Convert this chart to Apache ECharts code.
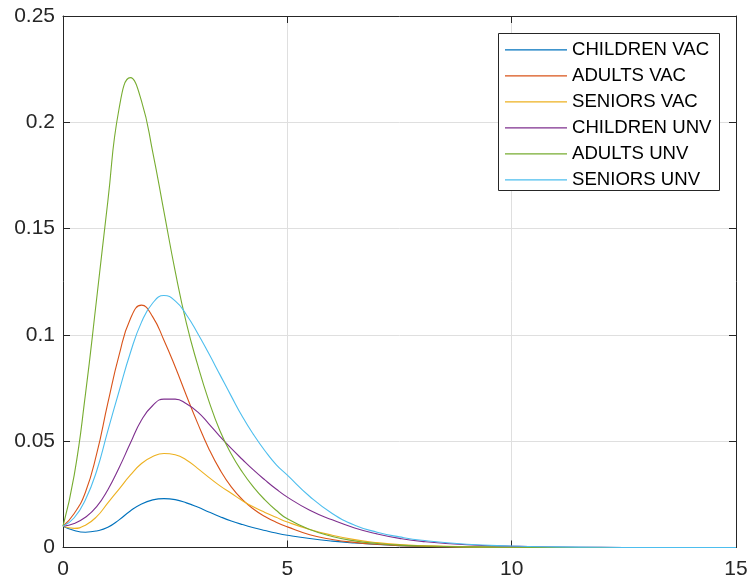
<!DOCTYPE html>
<html>
<head>
<meta charset="utf-8">
<script src="https://cdn.jsdelivr.net/npm/echarts@6/dist/echarts.min.js"></script>
<style>
html,body{margin:0;padding:0;background:#fff;}
#chart{width:752px;height:586px;}
</style>
</head>
<body>
<div id="chart"></div>
<script>
// x positions (shared by all series)
var xs = [0,0.25,0.5,0.75,1,1.25,1.5,1.75,2,2.25,2.5,2.75,3,3.25,3.5,3.75,4,4.25,4.5,4.75,5,5.5,6,6.5,7,7.5,8,9,10,11,12,13,14,15];

var seriesNames = ['CHILDREN VAC','ADULTS VAC','SENIORS VAC','CHILDREN UNV','ADULTS UNV','SENIORS UNV'];

var childrenVac = [0.0100,0.0080,0.0072,0.0078,0.0095,0.0130,0.0172,0.0205,0.0224,0.0230,0.0225,0.0210,0.0190,0.0167,0.0145,0.0125,0.0108,0.0093,0.0080,0.0068,0.0058,0.0042,0.0030,0.0021,0.0014,0.0009,0.0006,0.0003,0.0001,0,0,0,0,0];
var adultsVac   = [0.0100,0.0160,0.0260,0.0440,0.0680,0.0905,0.1075,0.1140,0.1085,0.0975,0.0850,0.0715,0.0585,0.0465,0.0365,0.0285,0.0225,0.0180,0.0146,0.0119,0.0097,0.0060,0.0038,0.0024,0.0015,0.0009,0.0006,0.0002,0.0001,0,0,0,0,0];
var seniorsVac  = [0.0100,0.0090,0.0105,0.0145,0.0210,0.0275,0.0340,0.0395,0.0428,0.0442,0.0436,0.0412,0.0372,0.0330,0.0290,0.0255,0.0220,0.0190,0.0165,0.0142,0.0120,0.0085,0.0058,0.0037,0.0023,0.0014,0.0009,0.0003,0.0001,0,0,0,0,0];
var childrenUnv = [0.0100,0.0113,0.0142,0.0192,0.0272,0.0375,0.0490,0.0600,0.0668,0.0698,0.0698,0.0676,0.0638,0.0582,0.0522,0.0466,0.0414,0.0364,0.0318,0.0275,0.0237,0.0175,0.0130,0.0092,0.0064,0.0043,0.0029,0.0013,0.0006,0.0002,0.0001,0,0,0];
var adultsUnv   = [0.0100,0.0340,0.0720,0.1170,0.1630,0.2065,0.2210,0.2100,0.1860,0.1580,0.1300,0.1055,0.0860,0.0690,0.0548,0.0440,0.0354,0.0283,0.0224,0.0175,0.0135,0.0085,0.0052,0.0031,0.0019,0.0011,0.0007,0.0003,0.0001,0,0,0,0,0];
var seniorsUnv  = [0.0100,0.0140,0.0225,0.0360,0.0550,0.0735,0.0915,0.1060,0.1150,0.1185,0.1160,0.1095,0.1008,0.0912,0.0812,0.0712,0.0615,0.0530,0.0455,0.0390,0.0340,0.0240,0.0160,0.0105,0.0072,0.0050,0.0034,0.0015,0.0007,0.0003,0.0001,0,0,0];

var xTicks = {min:0, max:15, interval:5};
var yTicks = {min:0, max:0.25, interval:0.05};

var colors = ['#0072BD','#D95319','#EDB120','#7E2F8E','#77AC30','#4DBEEE'];
var allData = [childrenVac, adultsVac, seniorsVac, childrenUnv, adultsUnv, seniorsUnv];

function pairs(ys){ return xs.map(function(x,i){ return [x, ys[i]]; }); }

var axisColor = '#262626';
var font = 'Liberation Sans, Arial, Helvetica, sans-serif';

var chart = echarts.init(document.getElementById('chart'), null, {renderer:'canvas'});
chart.setOption({
  animation: false,
  backgroundColor: '#fff',
  color: colors,
  grid: {left: 63, right: 16, top: 16, bottom: 38.5, show: false, containLabel: false},
  xAxis: [
    {type:'value', position:'bottom', min:xTicks.min, max:xTicks.max, interval:xTicks.interval,
     axisLine:{show:true, onZero:false, lineStyle:{color:axisColor, width:1}},
     axisTick:{show:true, inside:true, length:7, lineStyle:{color:axisColor}},
     axisLabel:{show:true, color:axisColor, fontSize:21, fontFamily:font, margin:11},
     splitLine:{show:true, lineStyle:{color:'#dfdfdf', width:1}}},
    {type:'value', position:'top', min:xTicks.min, max:xTicks.max, interval:xTicks.interval,
     axisLine:{show:true, onZero:false, lineStyle:{color:axisColor, width:1}},
     axisTick:{show:true, inside:true, length:7, lineStyle:{color:axisColor}},
     axisLabel:{show:false}, splitLine:{show:false}}
  ],
  yAxis: [
    {type:'value', position:'left', min:yTicks.min, max:yTicks.max, interval:yTicks.interval,
     axisLine:{show:true, onZero:false, lineStyle:{color:axisColor, width:1}},
     axisTick:{show:true, inside:true, length:7, lineStyle:{color:axisColor}},
     axisLabel:{show:true, color:axisColor, fontSize:21, fontFamily:font, margin:8},
     splitLine:{show:true, lineStyle:{color:'#dfdfdf', width:1}}},
    {type:'value', position:'right', min:yTicks.min, max:yTicks.max, interval:yTicks.interval,
     axisLine:{show:true, onZero:false, lineStyle:{color:axisColor, width:1}},
     axisTick:{show:true, inside:true, length:7, lineStyle:{color:axisColor}},
     axisLabel:{show:false}, splitLine:{show:false}}
  ],
  legend: {
    orient:'vertical', left:505, top:40.3, padding:0, z:20,
    itemWidth:62, itemHeight:18, itemGap:7,
    icon:'path://M0,0L62,0L62,1.2L0,1.2Z',
    data: seriesNames,
    textStyle:{color:'#000', fontSize:18.6, fontFamily:font},
    selectedMode:false
  },
  graphic: [{
    type:'rect', z:10, silent:true,
    shape:{x:498.5, y:33.5, width:221, height:157},
    style:{fill:'#fff', stroke:axisColor, lineWidth:1}
  }],
  series: seriesNames.map(function(name, i){
    return {
      name:name, type:'line', xAxisIndex:0, yAxisIndex:0,
      data: pairs(allData[i]), smooth:true, symbol:'none', showSymbol:false,
      lineStyle:{color:colors[i], width:1.1}, itemStyle:{color:colors[i]}, z:2+i
    };
  })
});
</script>
</body>
</html>
